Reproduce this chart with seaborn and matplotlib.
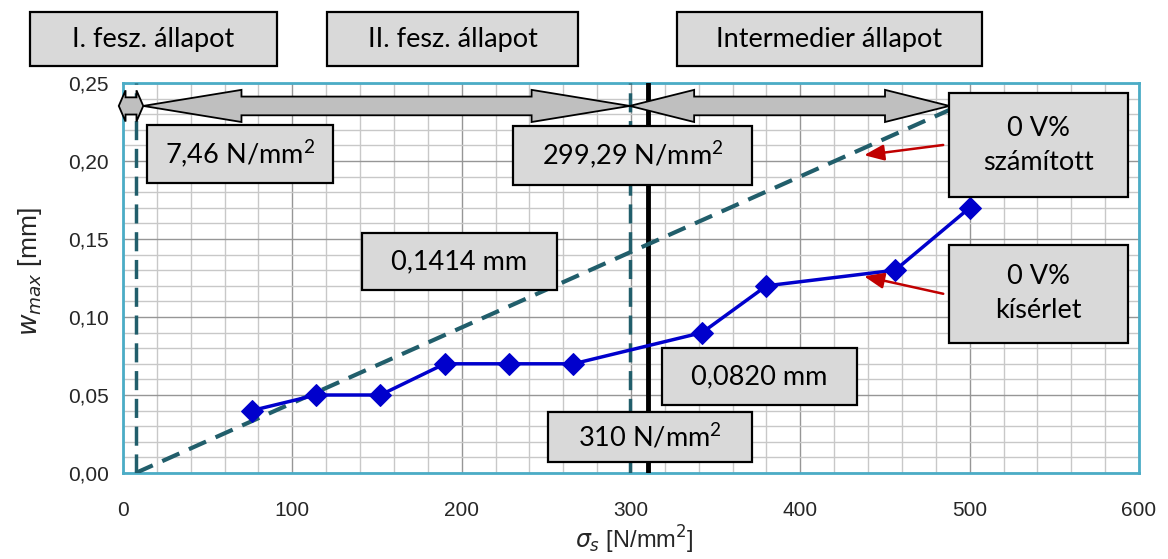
import matplotlib
matplotlib.use("Agg")
import matplotlib.pyplot as plt
import matplotlib.ticker as mticker
from matplotlib.patches import Rectangle, Polygon
import seaborn as sns
import pandas as pd
import numpy as np

# ---- data ----
sigma_meas = [76, 114, 152, 190, 228, 266, 342, 380, 456, 500]
w_meas = [0.04, 0.05, 0.05, 0.07, 0.07, 0.07, 0.09, 0.12, 0.13, 0.17]
sigma_calc = [7.46, 299.29, 500]
w_calc = [0.0, 0.1414, 0.2385]
thresholds = [7.46, 299.29]
sigma_int = 310
x_ticks = [0, 100, 200, 300, 400, 500, 600]
y_ticks = [0.00, 0.05, 0.10, 0.15, 0.20, 0.25]

W, H = 1168, 559
sns.set_theme(style="white")
plt.rcParams['font.family'] = ['Lato', 'DejaVu Sans']
plt.rcParams['mathtext.fontset'] = 'custom'
plt.rcParams['mathtext.rm'] = 'Lato'
plt.rcParams['mathtext.it'] = 'Lato:italic'

fig = plt.figure(figsize=(W / 100, H / 100), dpi=100)
L, R, T, B = 123, 1139, 83, 473
ax = fig.add_axes([L / W, 1 - B / H, (R - L) / W, (B - T) / H])
ax.set_facecolor('white')

ax.set_xlim(0, 600)
ax.set_ylim(0, 0.25)
ax.xaxis.set_major_locator(mticker.FixedLocator(x_ticks))
ax.yaxis.set_major_locator(mticker.FixedLocator(y_ticks))
ax.xaxis.set_minor_locator(mticker.MultipleLocator(20))
ax.yaxis.set_minor_locator(mticker.MultipleLocator(0.01))
ax.grid(which='minor', color='#C8C8C8', lw=1.0, zorder=0)
ax.grid(which='major', color='#969696', lw=1.0, zorder=0)
ax.set_axisbelow(True)
ax.yaxis.set_major_formatter(mticker.FuncFormatter(lambda v, p: f"{v:.2f}".replace('.', ',')))
ax.tick_params(axis='both', which='major', length=5, width=1, color='#808080',
               direction='out', pad=5)
ax.tick_params(axis='both', which='minor', length=0)
ax.tick_params(axis='x', pad=15)
for lab in ax.get_xticklabels() + ax.get_yticklabels():
    lab.set_fontfamily(['Liberation Sans', 'DejaVu Sans'])
    lab.set_fontsize(15)
for s in ax.spines.values():
    s.set_color('#4BACC6')
    s.set_linewidth(2)
    s.set_visible(True)

teal = '#215E6B'
# vertical threshold lines
for t in thresholds:
    ax.axvline(t, color=teal, lw=2.5, ls=(0, (5.5, 2.5)), zorder=3)
ax.axvline(sigma_int, color='black', lw=3.5, zorder=3)

# calculated line
df_calc = pd.DataFrame({'s': sigma_calc, 'w': w_calc})
sns.lineplot(data=df_calc, x='s', y='w', ax=ax, color=teal, lw=3,
             linestyle=(0, (4.5, 2.5)), zorder=4)
# measured line
df_meas = pd.DataFrame({'s': sigma_meas, 'w': w_meas})
sns.lineplot(data=df_meas, x='s', y='w', ax=ax, color='#0000CC', lw=2.5,
             marker='D', markersize=11, markeredgecolor='#0000CC', zorder=5)

ax.set_xlabel('')
ax.set_ylabel('')

# ---- block double arrows ----
def dbl_arrow(x0, x1, yc, head_len, head_h, shaft_h):
    pts = [(x0, yc), (x0 + head_len, yc + head_h), (x0 + head_len, yc + shaft_h),
           (x1 - head_len, yc + shaft_h), (x1 - head_len, yc + head_h), (x1, yc),
           (x1 - head_len, yc - head_h), (x1 - head_len, yc - shaft_h),
           (x0 + head_len, yc - shaft_h), (x0 + head_len, yc - head_h)]
    ax.add_patch(Polygon(pts, closed=True, facecolor='#BFBFBF', edgecolor='black',
                         lw=1.3, zorder=6, clip_on=False))

yc = 0.2353
dbl_arrow(-2.5, thresholds[0] + 4.5, yc, 4, 0.0100, 0.0055)
dbl_arrow(thresholds[0] + 4.5, thresholds[1], yc, 58, 0.0103, 0.0060)
dbl_arrow(thresholds[1], 488, yc, 38, 0.0103, 0.0060)

# red arrows
ax.annotate('', xy=(436, 0.2035), xytext=(486, 0.2105),
            arrowprops=dict(arrowstyle='-|>,head_length=1.0,head_width=0.4',
                            color='#C00000', lw=1.8), zorder=7)
ax.annotate('', xy=(436, 0.1265), xytext=(486, 0.1145),
            arrowprops=dict(arrowstyle='-|>,head_length=1.0,head_width=0.4',
                            color='#C00000', lw=1.8), zorder=7)

# ---- text boxes (pixel layout) ----
def box(x0, y0, x1, y1, text, size=19.5):
    fx0, fx1 = x0 / W, x1 / W
    fy0, fy1 = 1 - y1 / H, 1 - y0 / H
    fig.add_artist(Rectangle((fx0, fy0), fx1 - fx0, fy1 - fy0, transform=fig.transFigure,
                             facecolor='#D9D9D9', edgecolor='black', lw=1.6, zorder=10))
    fig.text((fx0 + fx1) / 2, (fy0 + fy1) / 2, text, ha='center', va='center',
             fontsize=size, color='black', zorder=11, linespacing=1.45)

box(30, 12, 277, 66, 'I. fesz. állapot')
box(327, 12, 578, 66, 'II. fesz. állapot')
box(677, 12, 982, 66, 'Intermedier állapot')
box(147, 125, 333, 183, r'7,46 N/mm$^2$')
box(513, 126, 752, 185, r'299,29 N/mm$^2$')
box(949, 93, 1128, 197, '0 V%\nszámított')
box(362, 233, 557, 290, '0,1414 mm')
box(949, 245, 1128, 343, '0 V%\nkísérlet')
box(662, 348, 857, 405, '0,0820 mm')
box(548, 412, 752, 462, r'310 N/mm$^2$')

# axis labels
fig.text(30 / W, 1 - 272 / H, r'$w_{max}$ [mm]', rotation=90, ha='center', va='center',
         fontsize=19, family=['Liberation Sans', 'DejaVu Sans'], math_fontfamily='dejavusans')
fig.text(634 / W, 1 - 540 / H, r'$\sigma_s$ [N/mm$^2$]', ha='center', va='center',
         fontsize=17, family=['Liberation Sans', 'DejaVu Sans'], math_fontfamily='dejavusans')

fig.savefig('out.png', dpi=100)
